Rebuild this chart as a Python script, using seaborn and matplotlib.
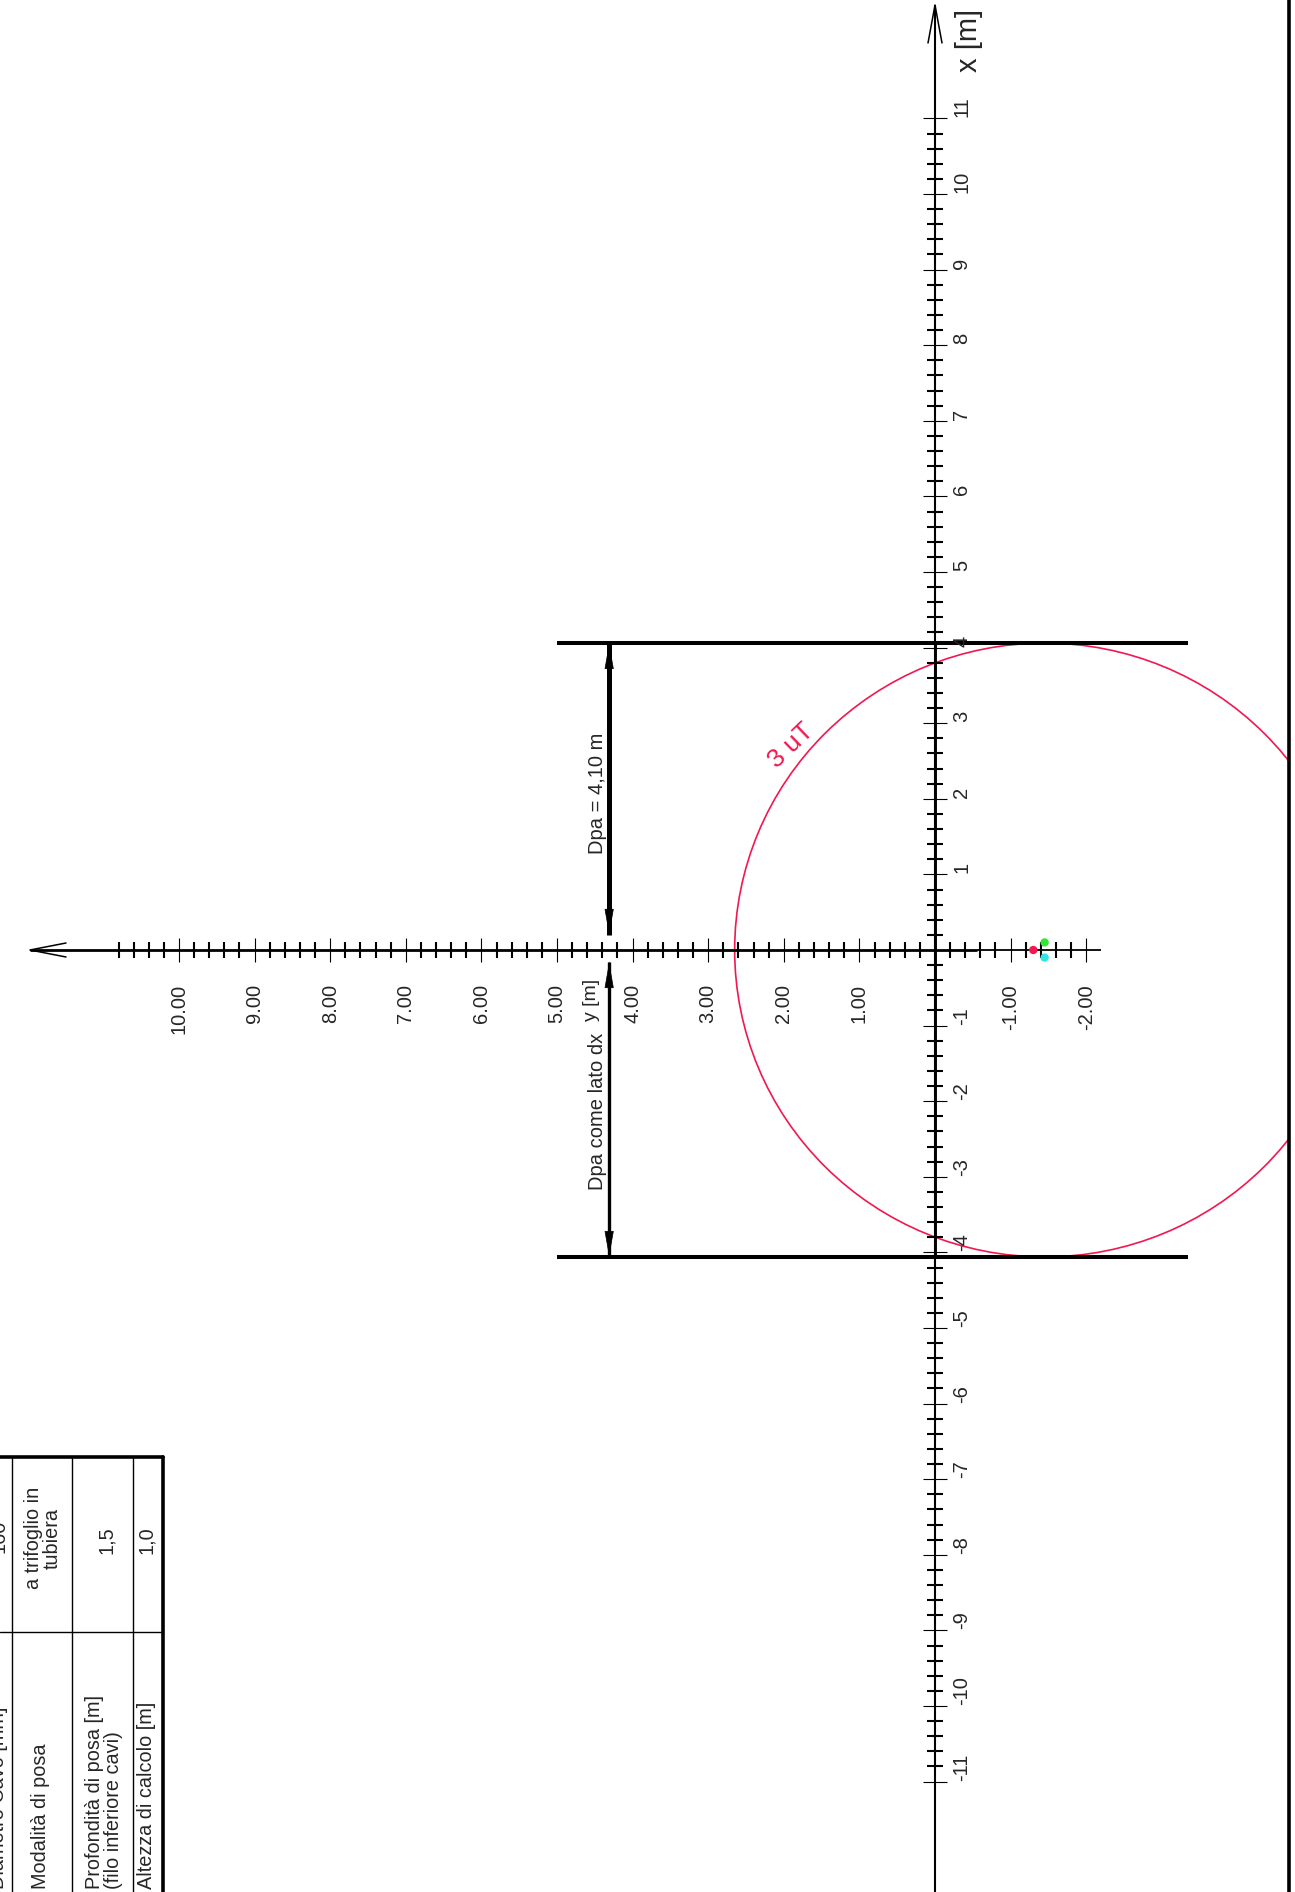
import numpy as np
import pandas as pd
import matplotlib
matplotlib.use("Agg")
import matplotlib.pyplot as plt
import seaborn as sns
from matplotlib.patches import Ellipse

# ---------------- data ----------------
x_major = [-11, -10, -9, -8, -7, -6, -5, -4, -3, -2, -1, 1, 2, 3, 4, 5, 6, 7, 8, 9, 10, 11]
x_major_labels = ["-11", "-10", "-9", "-8", "-7", "-6", "-5", "-4", "-3", "-2", "-1",
                  "1", "2", "3", "4", "5", "6", "7", "8", "9", "10", "11"]
y_major = [-2, -1, 1, 2, 3, 4, 5, 6, 7, 8, 9, 10]
y_major_labels = ["-2.00", "-1.00", "1.00", "2.00", "3.00", "4.00", "5.00",
                  "6.00", "7.00", "8.00", "9.00", "10.00"]
x_minor_range = (-11.0, 11.0, 0.2)
y_minor_range = (-2.0, 10.8, 0.2)

cable_names = ["L1", "L2", "L3"]
cable_y = [-1.30, -1.45, -1.45]
cable_x = [0.00, 0.10, -0.10]
cable_colors = ["#F2184F", "#33E633", "#33E6E6"]

contour_label = "3 uT"
contour_center_y = -1.45
contour_center_x = 0.0
contour_half_y = 4.10
contour_half_x = 4.06
contour_color = "#F2184F"

dpa_x = [4.06, -4.06]
dpa_line_y = [5.00, -3.35]
dpa_arrow_y = 4.31
dpa_texts = ["Dpa = 4,10 m", "Dpa come lato dx"]

table_left = ["Diametro Cavo [mm]", "Modalità di posa",
              "Profondità di posa [m]\n(filo inferiore cavi)", "Altezza di calcolo [m]"]
table_right = ["160", "a trifoglio in\ntubiera", "1,5", "1,0"]

# ---------------- figure ----------------
W, H, DPI = 1295, 1892, 100
S = 75.6          # pixels per metre
OX, OY = 935, 950  # origin in pixels
RB = 1289          # right border pixel

sns.set_theme(style="white")
plt.rcParams["font.family"] = ["Liberation Sans", "DejaVu Sans"]

fig = plt.figure(figsize=(W / DPI, H / DPI), dpi=DPI)
ax = fig.add_axes([0, 0, RB / W, 1])
ax.set_xlim(OX / S, (OX - RB) / S)
ax.set_ylim((OY - H) / S, OY / S)
for s in ["left", "top", "bottom"]:
    ax.spines[s].set_visible(False)
ax.spines["right"].set_visible(True)
ax.spines["right"].set_linewidth(2.6)
ax.spines["right"].set_color("black")
ax.set_xticks([]); ax.set_yticks([])
ax.patch.set_alpha(0)

px = lambda p: p / S  # pixel length -> metres

# axis lines
x_top = (OY - 5) / S
ax.plot([0, 0], [(OY - H) / S - 0.1, x_top], color="black", lw=1.5, solid_capstyle="butt")
ax.plot([0, 0], [dpa_x[1], dpa_x[0]], color="black", lw=2.1, solid_capstyle="butt")
ax.plot([px(7), 0, -px(7)], [x_top - px(38), x_top, x_top - px(38)], color="black", lw=1.1)
y_left = (OX - 30) / S
ax.plot([y_left, -0.55], [0, 0], color="black", lw=2.0, solid_capstyle="butt")
ax.plot([-0.55, -2.2], [0, 0], color="black", lw=1.3, solid_capstyle="butt")
ax.plot([y_left - px(36), y_left, y_left - px(36)], [px(7), 0, -px(7)], color="black", lw=1.1)

# ticks
xmin = np.arange(x_minor_range[0], x_minor_range[1] + 1e-6, x_minor_range[2])
xmin = [v for v in xmin if abs(v - round(v)) > 1e-6]
ax.hlines(xmin, px(8), -px(8), color="black", lw=1.5)
ax.hlines(x_major, px(12), -px(12), color="black", lw=0.8)
ymin = np.arange(y_minor_range[0], y_minor_range[1] + 1e-6, y_minor_range[2])
ymin = [v for v in ymin if abs(v - round(v)) > 1e-6]
ax.vlines(ymin, -px(8), px(8), color="black", lw=1.5)
ax.vlines(y_major, -px(12), px(12), color="black", lw=0.8)

for v, lab in zip(x_major, x_major_labels):
    ax.text(-px(27), v + px(1), lab, rotation=90, rotation_mode="anchor",
            ha="left", va="center", fontsize=14.5)
for v, lab in zip(y_major, y_major_labels):
    ax.text(v, -px(34), lab, rotation=90, rotation_mode="anchor",
            ha="right", va="center", fontsize=14.5)

ax.text(-px(34), (OY - 40) / S, "x [m]", rotation=90, ha="center", va="center", fontsize=21)
ax.text((OX - 591) / S, (OY - 1000) / S, "y [m]", rotation=90, ha="center", va="center", fontsize=14)

# Dpa lines
ax.hlines(dpa_x, dpa_line_y[0], dpa_line_y[1], color="black", lw=2.9)
# arrows
segs = [(dpa_x[0], 0.20, 3.6), (-0.16, dpa_x[1], 2.4)]
for a, b, lw in segs:
    ax.plot([dpa_arrow_y, dpa_arrow_y], [a, b], color="black", lw=lw, solid_capstyle="butt")
    for tip, other in [(a, b), (b, a)]:
        ax.annotate("", xy=(dpa_arrow_y, tip), xytext=(dpa_arrow_y, other),
                    arrowprops=dict(arrowstyle="-|>,head_length=1.7,head_width=0.3",
                                    color="black", lw=0.5, shrinkA=0, shrinkB=0,
                                    mutation_scale=10))
ax.text(dpa_arrow_y + px(12), (OY - 793) / S, dpa_texts[0], rotation=90,
        ha="center", va="center", fontsize=14.5)
ax.text(dpa_arrow_y + px(12), (OY - 1111) / S, dpa_texts[1], rotation=90,
        ha="center", va="center", fontsize=14.5)

# contour
ax.add_patch(Ellipse((contour_center_y, contour_center_x), 2 * contour_half_y, 2 * contour_half_x,
                     fill=False, edgecolor=contour_color, lw=1.2))
ax.text(1.90, 2.70, contour_label, rotation=44, ha="center", va="center",
        fontsize=19, color=contour_color)

# cables
df = pd.DataFrame({"y": cable_y, "x": cable_x, "cable": cable_names})
sns.scatterplot(data=df, x="y", y="x", hue="cable", palette=cable_colors, s=36,
                edgecolor="none", legend=False, ax=ax, zorder=5)
ax.set_xlabel(""); ax.set_ylabel("")
ax.set_xlim(OX / S, (OX - RB) / S)
ax.set_ylim((OY - H) / S, OY / S)

# ---------------- table (pixel overlay) ----------------
tab = fig.add_axes([0, 0, 1, 1])
tab.set_xlim(0, W); tab.set_ylim(H, 0)
tab.axis("off"); tab.patch.set_alpha(0)
tab.plot([0, 163], [1457, 1457], color="black", lw=2.6)
tab.plot([163, 163], [1457, H], color="black", lw=2.6)
tab.plot([0, 163], [1632, 1632], color="black", lw=1.0)
for xv in [12, 72, 133]:
    tab.plot([xv, xv], [1457, H], color="black", lw=1.0)

left_pos = [(-1, 1889), (40, 1889), (104, 1889), (147, 1889)]
right_pos = [(-1, 1536), (43, 1538), (106, 1540), (147, 1540)]
for txt, (xx, yy) in zip(table_left, left_pos):
    tab.text(xx, yy, txt, rotation=90, rotation_mode="anchor", ha="left", va="center",
             fontsize=14.3, linespacing=1.0, multialignment="left")
for txt, (xx, yy) in zip(table_right, right_pos):
    tab.text(xx, yy, txt, rotation=90, rotation_mode="anchor", ha="center", va="center",
             fontsize=14.3, linespacing=1.0, multialignment="center")

fig.savefig("out.png", dpi=DPI)
